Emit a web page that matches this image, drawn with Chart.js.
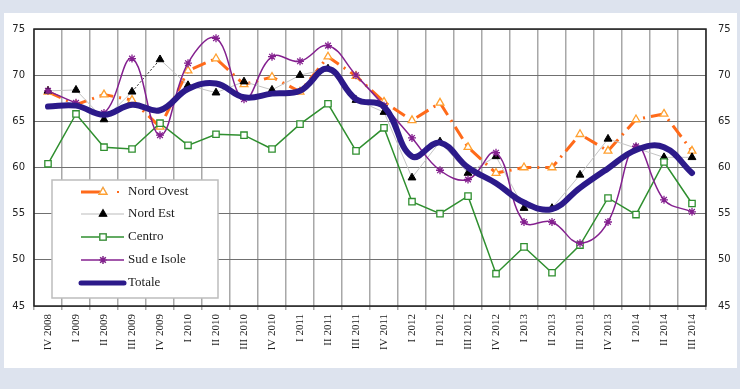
<!DOCTYPE html>
<html>
<head>
<meta charset="utf-8">
<script src="https://cdn.jsdelivr.net/npm/chart.js@4.4.1/dist/chart.umd.min.js"></script>
<style>
  html, body { margin: 0; padding: 0; background: #dde3ee; }
  #wrap { width: 740px; height: 389px; position: relative; }
</style>
</head>
<body>
<div id="wrap"><canvas id="chart" width="740" height="389"></canvas></div>
<script>
// Quarters on the x axis
const labels = ['IV 2008', 'I 2009', 'II 2009', 'III 2009', 'IV 2009', 'I 2010', 'II 2010', 'III 2010',
    'IV 2010', 'I 2011', 'II 2011', 'III 2011', 'IV 2011', 'I 2012', 'II 2012', 'III 2012',
    'IV 2012', 'I 2013', 'II 2013', 'III 2013', 'IV 2013', 'I 2014', 'II 2014', 'III 2014'];

const nordOvest = [68.2, 66.8, 67.9, 67.3, 64.4, 70.5, 71.8, 69.0, 69.8, 68.2, 72.0, 69.9,
    67.1, 65.1, 67.0, 62.2, 59.4, 60.0, 60.0, 63.6, 61.8, 65.2, 65.8, 61.8];
const nordEst = [68.3, 68.4, 65.2, 68.2, 71.7, 68.9, 68.1, 69.3, 68.4, 70.0, 70.7, 67.3,
    66.0, 58.9, 62.8, 59.4, 61.2, 55.6, 55.6, 59.2, 63.1, 62.1, 61.1, 61.1];
const centro = [60.4, 65.8, 62.2, 62.0, 64.8, 62.4, 63.6, 63.5, 62.0, 64.7, 66.9, 61.8,
    64.3, 56.3, 55.0, 56.9, 48.5, 51.4, 48.6, 51.6, 56.7, 54.9, 60.6, 56.1];
const sudIsole = [68.3, 67.0, 65.9, 71.8, 63.5, 71.3, 74.0, 67.4, 72.0, 71.5, 73.2, 70.0,
    66.7, 63.2, 59.7, 58.7, 61.6, 54.1, 54.1, 51.8, 54.1, 62.3, 56.5, 55.2];
const totale = [66.6, 66.7, 65.7, 66.8, 66.2, 68.5, 69.1, 67.6, 68.0, 68.3, 70.7, 67.4,
    66.6, 61.2, 62.7, 60.0, 58.3, 56.2, 55.5, 57.8, 59.9, 61.9, 62.2, 59.4];

const yTicks = [45, 50, 55, 60, 65, 70, 75];

const SERIF = "'Liberation Serif', 'Times New Roman', serif";
const SANS = "'DejaVu Sans', Verdana, sans-serif";

const datasets = [
    {
        label: 'Nord Ovest',
        data: nordOvest,
        borderColor: '#ff6a1a',
        borderWidth: 3,
        borderDash: [14, 6, 2, 6],
        pointStyle: 'triangle',
        pointRadius: 4.5,
        pointBorderColor: '#ffa030',
        pointBackgroundColor: '#ffffff',
        pointBorderWidth: 1.3,
        tension: 0,
        order: 5
    },
    {
        label: 'Nord Est',
        data: nordEst,
        borderColor: '#c4c4c4',
        borderWidth: 1,
        pointStyle: 'triangle',
        pointRadius: 4.5,
        pointBorderColor: '#000000',
        pointBackgroundColor: '#000000',
        tension: 0,
        order: 4,
        segment: {
            borderColor: ctx => ctx.p0DataIndex === 3 ? '#222222' : undefined,
            borderDash: ctx => ctx.p0DataIndex === 3 ? [2, 2] : undefined
        }
    },
    {
        label: 'Centro',
        data: centro,
        borderColor: '#2f8f2f',
        borderWidth: 1.5,
        pointStyle: 'rect',
        pointRadius: 4.5,
        pointBorderColor: '#2f8f2f',
        pointBackgroundColor: '#ffffff',
        pointBorderWidth: 1.3,
        tension: 0,
        order: 3
    },
    {
        label: 'Sud e Isole',
        data: sudIsole,
        borderColor: '#84208f',
        borderWidth: 1.5,
        pointStyle: 'star',
        pointRadius: 4,
        pointBorderColor: '#84208f',
        pointBorderWidth: 1.3,
        tension: 0.4,
        order: 2
    },
    {
        label: 'Totale',
        data: totale,
        borderColor: '#2c1a8a',
        borderWidth: 6,
        pointRadius: 0,
        tension: 0.4,
        borderCapStyle: 'round',
        order: 1
    }
];

// white panel behind the chart
const panelPlugin = {
    id: 'panel',
    beforeDraw(chart) {
        const c = chart.ctx;
        c.save();
        c.fillStyle = '#ffffff';
        c.fillRect(4, 13, 733, 355);
        c.restore();
    }
};

// plot frame + legend box inside the plot area
const legendBoxPlugin = {
    id: 'legendBox',
    afterDraw(chart) {
        const c = chart.ctx;
        const a = chart.chartArea;
        c.save();
        c.strokeStyle = '#222222';
        c.lineWidth = 1.5;
        c.strokeRect(a.left, a.top, a.right - a.left, a.bottom - a.top);

        c.fillStyle = '#ffffff';
        c.fillRect(52, 180, 166, 118);
        c.strokeStyle = '#bdbdbd';
        c.lineWidth = 1.5;
        c.strokeRect(52, 180, 166, 118);

        const rows = [192, 214, 237, 260, 283];
        chart.data.datasets.forEach((ds, i) => {
            const y = rows[i];
            c.save();
            c.strokeStyle = ds.borderColor;
            c.lineWidth = ds.label === 'Totale' ? 5 : (ds.label === 'Nord Est' ? 2 : ds.borderWidth);
            c.lineCap = ds.label === 'Totale' ? 'round' : 'butt';
            if (ds.label === 'Nord Est') c.strokeStyle = '#dddddd';
            c.beginPath();
            if (ds.label === 'Nord Ovest') {
                c.moveTo(81, y); c.lineTo(100, y);
                c.stroke();
                c.fillStyle = ds.borderColor;
                c.fillRect(117, y - 1, 2, 2);
            } else {
                c.moveTo(81, y); c.lineTo(124, y);
                c.stroke();
            }
            c.restore();
            if (ds.pointRadius > 0) {
                Chart.helpers.drawPoint(c, {
                    pointStyle: ds.pointStyle,
                    radius: ds.pointRadius,
                    borderWidth: ds.pointBorderWidth || 1
                }, 103, y);
                c.save();
                c.fillStyle = ds.pointBackgroundColor || 'transparent';
                c.strokeStyle = ds.pointBorderColor;
                c.lineWidth = ds.pointBorderWidth || 1;
                c.beginPath();
                Chart.helpers.drawPoint(c, {
                    pointStyle: ds.pointStyle,
                    radius: ds.pointRadius,
                    borderWidth: ds.pointBorderWidth || 1
                }, 103, y);
                c.restore();
            }
            c.fillStyle = '#1a1a1a';
            c.font = '13px ' + SERIF;
            c.textBaseline = 'middle';
            c.fillText(ds.label, 128, y);
        });
        c.restore();
    }
};

const yScale = (position, width, pad) => ({
    type: 'linear',
    position,
    min: 45,
    max: 75,
    afterBuildTicks: scale => { scale.ticks = yTicks.map(v => ({ value: v })); },
    afterFit: scale => { scale.width = width; },
    grid: {
        display: position === 'left',
        color: '#707070',
        lineWidth: 1,
        drawTicks: false
    },
    border: { display: false },
    ticks: {
        padding: pad,
        color: '#222222',
        font: { size: 10, family: SANS }
    }
});

new Chart(document.getElementById('chart'), {
    type: 'line',
    data: { labels, datasets },
    plugins: [panelPlugin, legendBoxPlugin],
    options: {
        responsive: false,
        animation: false,
        layout: { padding: { top: 29, left: 0, right: 0, bottom: 0 } },
        plugins: {
            legend: { display: false },
            tooltip: { enabled: false }
        },
        scales: {
            x: {
                offset: true,
                afterFit: scale => { scale.height = 83; },
                grid: {
                    offset: true,
                    color: '#a8a8a8',
                    lineWidth: 1.5,
                    tickLength: 4
                },
                border: { display: false },
                ticks: {
                    autoSkip: false,
                    minRotation: 90,
                    maxRotation: 90,
                    padding: 4,
                    color: '#222222',
                    font: { size: 11, family: SERIF }
                }
            },
            y: yScale('left', 34, 9),
            y2: yScale('right', 34, 12)
        }
    }
});
</script>
</body>
</html>
